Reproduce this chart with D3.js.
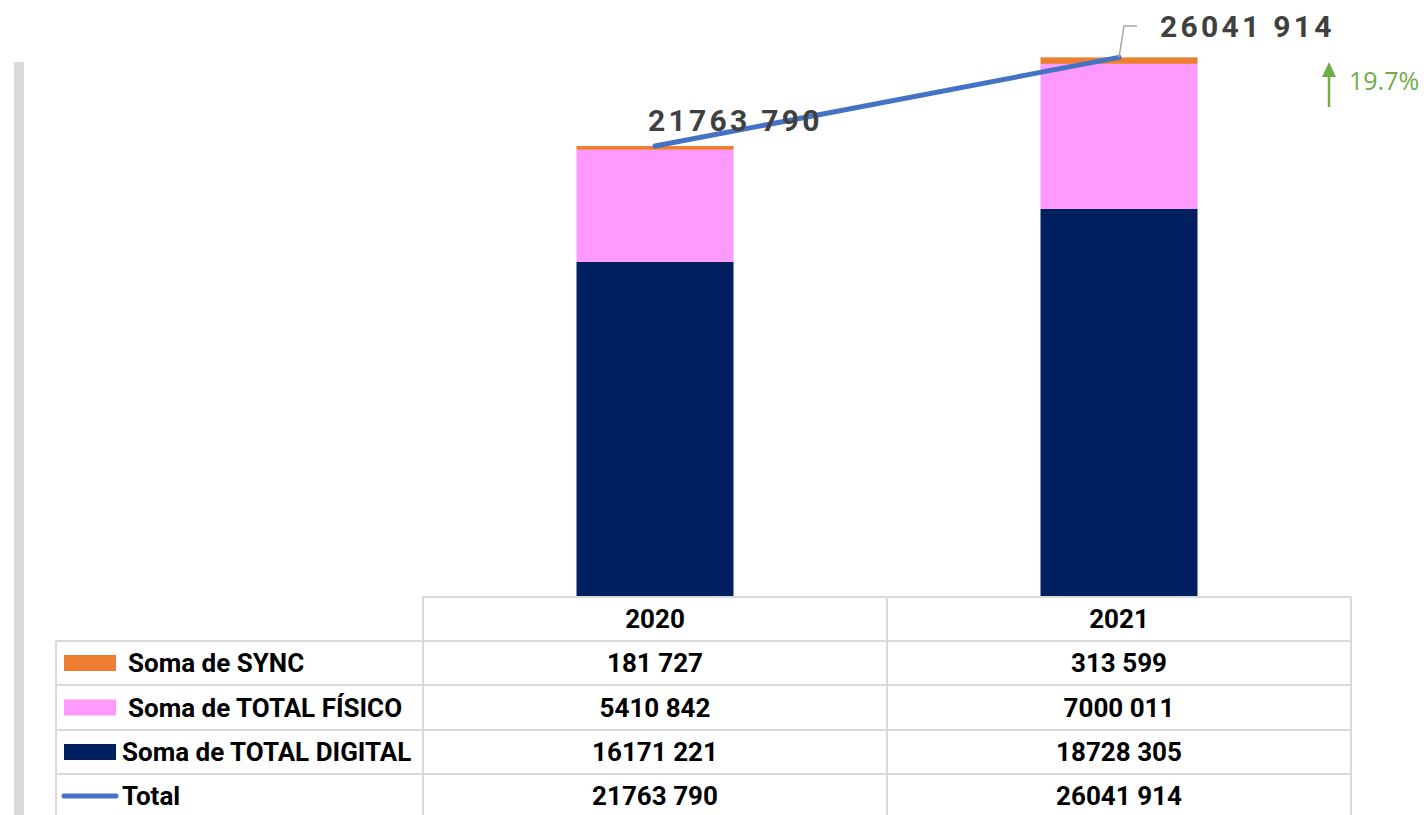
<!DOCTYPE html>
<html>
<head>
<meta charset="utf-8">
<script src="https://cdn.jsdelivr.net/npm/d3@7"></script>
<style>
  body { margin: 0; background: #fff; }
  svg { display: block; }
</style>
</head>
<body>
<svg id="chart"></svg>
<script>
const years = ["2020", "2021"];
const sync = [181727, 313599];
const fisico = [5410842, 7000011];
const digital = [16171221, 18728305];
const totals = [21763790, 26041914];

const seriesNames = ["Soma de SYNC", "Soma de TOTAL FÍSICO", "Soma de TOTAL DIGITAL", "Total"];
const colors = ["#ed7d31", "#ff99ff", "#002060", "#4472c4"];

const width = 1424, height = 815;
const svg = d3.select("#chart").attr("width", width).attr("height", height);

// space-separated thousands like the Excel sheet ("21763 790")
const fmt = v => { const s = String(v); return s.slice(0, -3) + " " + s.slice(-3); };

const tableLeft = 56, colStart = 423, tableRight = 1351;
const baseY = 597;

const xCol = d3.scaleBand().domain(years).range([colStart, tableRight]);
const xBar = d3.scaleBand().domain(years).range([colStart, tableRight])
  .paddingInner(0.6616).paddingOuter(0.3308);
const y = d3.scaleLinear().domain([0, 28000000]).range([baseY, 16.8]);

// gray strip on the left
svg.append("rect").attr("x", 14).attr("y", 62).attr("width", 10).attr("height", height - 62)
  .attr("fill", "#d9d9d9");

// stacked bars
const rows = years.map((yr, i) => ({ year: yr, digital: digital[i], fisico: fisico[i], sync: sync[i] }));
const stack = d3.stack().keys(["digital", "fisico", "sync"]);
const stackColor = { digital: colors[2], fisico: colors[1], sync: colors[0] };

svg.append("g").selectAll("g")
  .data(stack(rows))
  .join("g")
  .attr("fill", d => stackColor[d.key])
  .selectAll("rect")
  .data(d => d)
  .join("rect")
  .attr("x", d => xBar(d.data.year))
  .attr("width", xBar.bandwidth())
  .attr("y", d => y(d[1]))
  .attr("height", d => y(d[0]) - y(d[1]));

// total line
const pts = years.map((yr, i) => [xBar(yr) + xBar.bandwidth() / 2, y(totals[i])]);
svg.append("path")
  .attr("d", d3.line()(pts))
  .attr("fill", "none")
  .attr("stroke", colors[3])
  .attr("stroke-width", 5)
  .attr("stroke-linecap", "round");

// data labels for total
const labelFont = "Roboto, 'Open Sans', sans-serif";
svg.append("text")
  .attr("x", pts[0][0] - 7).attr("y", pts[0][1] - 15)
  .attr("font-family", labelFont).attr("font-weight", 700).attr("font-size", 30)
  .attr("letter-spacing", "3.3px").attr("fill", "#404040")
  .text(fmt(totals[0]));

svg.append("path")
  .attr("d", `M${pts[1][0]},${pts[1][1]} L${pts[1][0] + 5},26 L${pts[1][0] + 18},26`)
  .attr("fill", "none").attr("stroke", "#a6a6a6").attr("stroke-width", 1.5);
svg.append("text")
  .attr("x", pts[1][0] + 41).attr("y", 37)
  .attr("font-family", labelFont).attr("font-weight", 700).attr("font-size", 30)
  .attr("letter-spacing", "3.3px").attr("fill", "#404040")
  .text(fmt(totals[1]));

// growth arrow
const growth = totals[1] / totals[0] - 1;
const ax = 1329;
svg.append("line").attr("x1", ax).attr("x2", ax).attr("y1", 74).attr("y2", 107)
  .attr("stroke", "#70ad47").attr("stroke-width", 2.5);
svg.append("path").attr("d", `M${ax - 7},77 L${ax},62 L${ax + 7},77 Z`).attr("fill", "#70ad47");
svg.append("text").attr("x", 1349).attr("y", 90)
  .attr("font-family", "'Open Sans', sans-serif").attr("font-size", 25).attr("fill", "#70ad47")
  .text(d3.format(".1%")(growth));

// data table
const rowTop = [597, 641, 685, 730, 774];
const rowBottom = [641, 685, 730, 774, 830];
const grid = svg.append("g").attr("stroke", "#d9d9d9").attr("stroke-width", 2).attr("fill", "none");
grid.append("path").attr("d", `M${colStart},${height} V${baseY} H${tableRight} V${height}`);
grid.append("line").attr("x1", xCol("2021")).attr("x2", xCol("2021")).attr("y1", baseY).attr("y2", height);
grid.append("line").attr("x1", tableLeft).attr("x2", tableLeft).attr("y1", rowTop[1]).attr("y2", height);
rowTop.slice(1).forEach(ry => {
  grid.append("line").attr("x1", tableLeft).attr("x2", tableRight).attr("y1", ry).attr("y2", ry);
});

const tFont = "Roboto, 'Open Sans', sans-serif";
const cellText = (x, yc, txt, anchor) => svg.append("text")
  .attr("x", x).attr("y", yc).attr("dy", "0.36em")
  .attr("text-anchor", anchor || "middle")
  .attr("font-family", tFont).attr("font-weight", 700).attr("font-size", 26)
  .attr("fill", "#000").text(txt);

const mid = i => (rowTop[i] + Math.min(rowBottom[i], height + 4)) / 2;
years.forEach(yr => cellText(xCol(yr) + xCol.bandwidth() / 2, 619, yr));

const tableVals = [sync, fisico, digital, totals];
tableVals.forEach((vals, r) => {
  const yc = r < 3 ? mid(r + 1) : 796;
  years.forEach((yr, i) => cellText(xCol(yr) + xCol.bandwidth() / 2, yc, fmt(vals[i])));
});

// legend keys in the first column
const keyX = [128, 128, 122, 122];
seriesNames.forEach((name, r) => {
  const yc = r < 3 ? mid(r + 1) : 796;
  if (r < 3) {
    svg.append("rect").attr("x", 64).attr("y", yc - 8).attr("width", 52).attr("height", 16)
      .attr("fill", colors[r]);
  } else {
    svg.append("line").attr("x1", 64).attr("x2", 116).attr("y1", yc).attr("y2", yc)
      .attr("stroke", colors[3]).attr("stroke-width", 5).attr("stroke-linecap", "round");
  }
  cellText(keyX[r], yc, name, "start");
});
</script>
</body>
</html>
